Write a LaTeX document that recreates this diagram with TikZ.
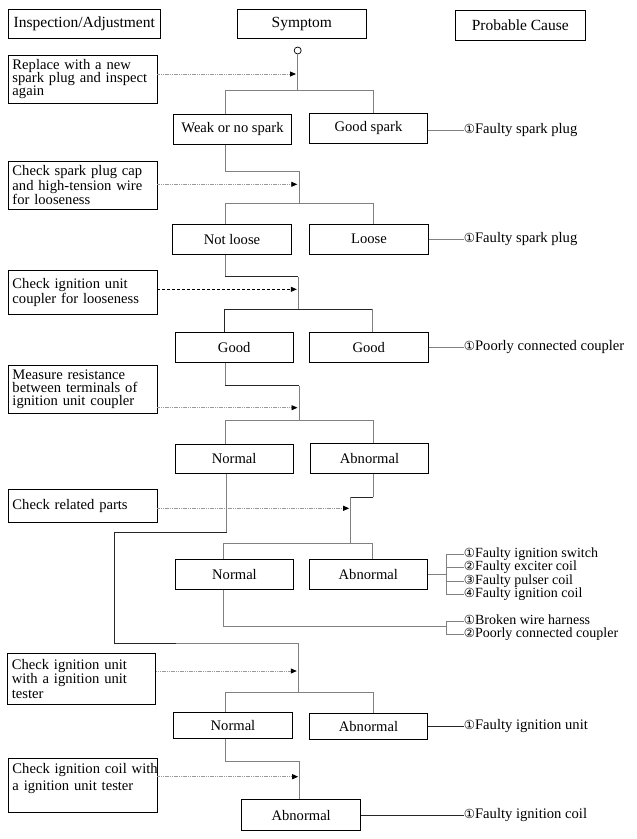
\documentclass[tikz,border=0pt]{standalone}
\usepackage{fontspec}
\setmainfont{Liberation Serif}
\newfontfamily\symfont{DejaVu Sans}
\usetikzlibrary{arrows.meta}
\newcommand\cnum[1]{{\symfont\fontsize{12.5}{12.5}\selectfont #1}}
\begin{document}
\begin{tikzpicture}[x=1pt,y=-1pt,
  hbox/.style={draw, line width=0.9pt, minimum height=29, inner sep=0, font=\fontsize{15.5}{16}\selectfont},
  ibox/.style={draw, line width=0.9pt, inner xsep=4.5, inner ysep=0, align=left, font=\fontsize{14.6}{13.3}\selectfont},
  sbox/.style={draw, line width=0.9pt, minimum width=118.5, minimum height=30, inner sep=0, font=\fontsize{14.6}{14}\selectfont},
  cause/.style={anchor=west, inner sep=0.2, text height=8.5, text depth=2.5, font=\fontsize{14.6}{13.3}\selectfont},
  causes/.style={cause, font=\fontsize{14}{13}\selectfont},
  conn/.style={draw=black!50, line width=0.9pt},
  connk/.style={draw=black!85, line width=0.9pt},
  darrow/.style={draw=black!40, line width=0.8pt, dash pattern=on 1.2pt off 0.6pt, -{Triangle[length=6pt,width=5pt,color=black,fill=black]}},
  darrowk/.style={draw=black, line width=0.8pt, dash pattern=on 3pt off 2pt, -{Triangle[length=6pt,width=5pt,color=black,fill=black]}},
]
\useasboundingbox (0,0) rectangle (637,839);

% headers
\node[hbox, minimum width=152.7] (hIA) at (84.3,23.8) {Inspection/Adjustment};
\node[hbox, minimum width=129.7] (hS) at (301.8,23.8) {Symptom};
\node[hbox, minimum width=130.7, minimum height=30] (hPC) at (520.3,25.3) {Probable Cause};

% inspection boxes
\node[ibox, text width=140, minimum height=48.3] (i1) at (82.5,79.2) {\mbox{Replace with a new}\\\mbox{spark plug and inspect}\\again};
\node[ibox, text width=140, minimum height=48.3, font=\fontsize{14.6}{12.5}\selectfont] (i2) at (82.5,185.2) {\mbox{Check spark plug cap}\\\mbox{and high-tension wire}\\for looseness};
\node[ibox, text width=140, minimum height=43.6] (i3) at (82.5,292.5) {\mbox{Check ignition unit}\\\mbox{coupler for looseness}};
\node[ibox, text width=140, minimum height=48.3] (i4) at (82.5,389.2) {\mbox{Measure resistance}\\\mbox{between terminals of}\\\mbox{ignition unit coupler}};
\node[ibox, text width=140, minimum height=32.7] (i5) at (82.5,505.7) {Check related parts};
\node[ibox, text width=139.4, minimum height=51, font=\fontsize{14.6}{14.3}\selectfont] (i6) at (81.5,678.8) {\mbox{Check ignition unit}\\\mbox{with a ignition unit}\\tester};
\node[ibox, text width=140, minimum height=54, font=\fontsize{14.6}{16.5}\selectfont] (i7) at (82.5,785.3) {\mbox{Check ignition coil with}\\\mbox{a ignition unit tester}\\\mbox{}};

% symptom boxes
\node[sbox] (s1L) at (232.5,129.2) {Weak or no spark};
\node[sbox] (s1R) at (368.5,128.3) {Good spark};
\node[sbox] (s2L) at (232,239.2) {Not loose};
\node[sbox] (s2R) at (369,239.2) {Loose};
\node[sbox] (s3L) at (234.2,347.2) {Good};
\node[sbox] (s3R) at (368.8,347.8) {Good};
\node[sbox, minimum height=29] (s4L) at (234.2,458.8) {Normal};
\node[sbox] (s4R) at (369.5,458.3) {Abnormal};
\node[sbox] (s5L) at (234.5,574.3) {Normal};
\node[sbox] (s5R) at (368.3,574.3) {Abnormal};
\node[sbox, minimum height=26.4] (s6L) at (233,725.5) {Normal};
\node[sbox, minimum height=26] (s6R) at (368.5,726.3) {Abnormal};
\node[sbox, minimum width=119, minimum height=31.4] (s7) at (301.2,815) {Abnormal};

% causes
\node[cause] (c1) at (463.5,130) {\cnum{①}Faulty spark plug};
\node[cause] (c2) at (463.5,239.3) {\cnum{①}Faulty spark plug};
\node[cause] (c3) at (463.5,347.3) {\cnum{①}Poorly connected coupler};
\node[causes] (r1) at (463.5,554.3) {\cnum{①}Faulty ignition switch};
\node[causes] (r2) at (463.5,567.8) {\cnum{②}Faulty exciter coil};
\node[causes] (r3) at (463.5,581.3) {\cnum{③}Faulty pulser coil};
\node[causes] (r4) at (463.5,594.8) {\cnum{④}Faulty ignition coil};
\node[causes] (t1) at (463.5,621.3) {\cnum{①}Broken wire harness};
\node[causes] (t2) at (463.5,634.8) {\cnum{②}Poorly connected coupler};
\node[cause] (u1) at (463.5,726) {\cnum{①}Faulty ignition unit};
\node[cause] (u2) at (463.5,815) {\cnum{①}Faulty ignition coil};

% start circle and row 1
\node[draw, circle, inner sep=0, minimum size=7, line width=0.7pt] (c0) at (297.7,50.5) {};
\coordinate (j1) at (297.7,90);
\coordinate (j1L) at (225,90);
\coordinate (j1R) at (373.3,90);
\draw[conn] (c0) -- (j1);
\draw[conn] (j1L |- s1L.north) -- (j1L) -- (j1R) -- (j1R |- s1R.north);
\coordinate (a1) at (296,74);
\draw[darrow] (i1.east |- a1) -- (a1);
\draw[conn] (s1R.east |- c1.west) -- (c1.west);

% row 1 -> row 2
\coordinate (k1) at (225,171.7);
\coordinate (k1r) at (299,171.7);
\coordinate (j2) at (299,203.3);
\coordinate (j2L) at (225,203.3);
\coordinate (j2R) at (373.3,203.3);
\draw[conn] (k1 |- s1L.south) -- (k1) -- (k1r) -- (j2);
\draw[conn] (j2L |- s2L.north) -- (j2L) -- (j2R) -- (j2R |- s2R.north);
\coordinate (a2) at (297.3,184.3);
\draw[darrow] (i2.east |- a2) -- (a2);
\draw[conn] (s2R.east |- c2.west) -- (c2.west);

% row 2 -> row 3
\coordinate (k2) at (225,276.7);
\coordinate (k2r) at (298.3,276.7);
\coordinate (j3) at (298.3,309.3);
\coordinate (j3L) at (224.5,309.3);
\coordinate (j3R) at (372.7,309.3);
\draw[conn] (k2 |- s2L.south) -- (k2);
\draw[connk] (k2) -- (k2r);
\draw[conn] (k2r) -- (j3);
\draw[connk] (j3L |- s3L.north) -- (j3L) -- (j3R);
\draw[conn] (j3R) -- (j3R |- s3R.north);
\coordinate (a3) at (296.8,289.3);
\draw[darrowk] (i3.east |- a3) -- (a3);
\draw[conn] (s3R.east |- c3.west) -- (c3.west);

% row 3 -> row 4
\coordinate (k3) at (225,385.7);
\coordinate (k3r) at (299,385.7);
\coordinate (j4) at (299,420);
\coordinate (j4L) at (225,420);
\coordinate (j4R) at (373.3,420);
\draw[conn] (k3 |- s3L.south) -- (k3);
\draw[connk] (k3) -- (k3r);
\draw[conn] (k3r) -- (j4);
\draw[conn] (j4L |- s4L.north) -- (j4L) -- (j4R) -- (j4R |- s4R.north);
\coordinate (a4) at (297.5,407.7);
\draw[darrow] (i4.east |- a4) -- (a4);

% row 4 Abnormal -> row 5
\coordinate (n1) at (373.3,497.3);
\coordinate (n2) at (350.7,497.3);
\coordinate (n3) at (350.7,543.3);
\coordinate (j5L) at (223.3,543.3);
\coordinate (j5R) at (372.7,543.3);
\draw[conn] (n1 |- s4R.south) -- (n1);
\draw[connk] (n1) -- (n2);
\draw[conn] (n2) -- (n3);
\draw[conn] (j5L |- s5L.north) -- (j5L) -- (j5R) -- (j5R |- s5R.north);
\coordinate (a5) at (349.2,508.3);
\draw[darrow] (i5.east |- a5) -- (a5);

% row 5 causes
\coordinate (b1) at (446.7,574);
\draw[conn] (s5R.east |- b1) -- (b1);
\draw[conn] (r1.west -| b1) -- (r4.west -| b1);
\draw[conn] (r1.west -| b1) -- (r1.west);
\draw[conn] (r2.west -| b1) -- (r2.west);
\draw[conn] (r3.west -| b1) -- (r3.west);
\draw[conn] (r4.west -| b1) -- (r4.west);
\coordinate (q1) at (223.3,626.7);
\coordinate (q2) at (446.7,626.7);
\draw[conn] (q1 |- s5L.south) -- (q1) -- (q2);
\draw[conn] (t1.west -| q2) -- (t2.west -| q2);
\draw[conn] (t1.west -| q2) -- (t1.west);
\draw[conn] (t2.west -| q2) -- (t2.west);

% row 4 Normal -> row 6
\coordinate (m1) at (226.7,532.5);
\coordinate (m2) at (114.5,532.5);
\coordinate (m3) at (114.5,643.3);
\coordinate (m3b) at (176,643.3);
\coordinate (m4) at (298.3,643.3);
\coordinate (j6) at (298.3,692);
\coordinate (j6L) at (225,692);
\coordinate (j6R) at (373.3,692);
\draw[conn] (m1 |- s4L.south) -- (m1);
\draw[connk] (m1) -- (m2) -- (m3) -- (m3b);
\draw[conn] (m3b) -- (m4) -- (j6);
\draw[conn] (j6L |- s6L.north) -- (j6L) -- (j6R) -- (j6R |- s6R.north);
\coordinate (a6) at (296.8,671);
\draw[darrow] (i6.east |- a6) -- (a6);
\draw[connk] (s6R.east |- u1.west) -- (u1.west);

% row 6 -> row 7
\coordinate (p1) at (225,761);
\coordinate (p2) at (299.7,761);
\draw[conn] (p1 |- s6L.south) -- (p1) -- (p2) -- (p2 |- s7.north);
\coordinate (a7) at (298.2,776.7);
\draw[darrow] (i7.east |- a7) -- (a7);
\draw[connk] (s7.east |- u2.west) -- (u2.west);
\end{tikzpicture}
\end{document}
